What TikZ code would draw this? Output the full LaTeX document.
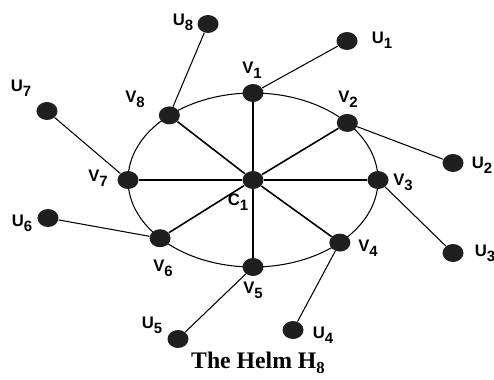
\documentclass[tikz,border=0pt]{standalone}
\usepackage{fontspec}
\setmainfont{Liberation Serif}
\newfontfamily\labfont{Liberation Sans}
\usetikzlibrary{shapes.geometric}
\newcommand{\vname}[2]{{\labfont\bfseries\fontsize{9.5}{10}\selectfont #1\raisebox{-0.55ex}{\fontsize{8.5}{9}\selectfont #2}}}
\tikzset{
  vtx/.style={ellipse, fill=black!88, draw=none, minimum width=0.42cm, minimum height=0.36cm, inner sep=0pt},
  rim/.style={line width=0.6pt},
  spoke/.style={line width=0.9pt},
  pend/.style={line width=0.6pt},
  lab/.style={inner sep=0pt}
}
\begin{document}
\begin{tikzpicture}[x=1cm,y=1cm]
\useasboundingbox (-5.06,3.6) rectangle (4.82,-3.98);
\draw[rim] (0,0) ellipse (2.5 and 1.74);

\node[vtx] (c1) at (0,0) {};
\node[vtx] (v1) at (90:2.5 and 1.74) {};
\node[vtx] (v2) at (41:2.5 and 1.74) {};
\node[vtx] (v3) at (0:2.5 and 1.74) {};
\node[vtx] (v4) at (-46:2.5 and 1.74) {};
\node[vtx] (v5) at (-90:2.5 and 1.74) {};
\node[vtx] (v6) at (-138:2.5 and 1.74) {};
\node[vtx] (v7) at (180:2.5 and 1.74) {};
\node[vtx] (v8) at (132:2.5 and 1.74) {};

\node[vtx] (u1) at (1.88,2.78) {};
\node[vtx] (u2) at (4.0,0.34) {};
\node[vtx] (u3) at (4.0,-1.46) {};
\node[vtx] (u4) at (0.8,-3.0) {};
\node[vtx] (u5) at (-1.5,-3.18) {};
\node[vtx] (u6) at (-4.1,-0.76) {};
\node[vtx] (u7) at (-4.12,1.38) {};
\node[vtx] (u8) at (-0.9,3.12) {};

% spokes
\draw[spoke] (c1) -- (v1);
\draw[spoke] (c1) -- (v2);
\draw[spoke] (c1) -- (v3);
\draw[spoke] (c1) -- (v4);
\draw[spoke] (c1) -- (v5);
\draw[spoke] (c1) -- (v6);
\draw[spoke] (c1) -- (v7);
\draw[spoke] (c1) -- (v8);

% pendant edges
\draw[pend] (v1) -- (u1);
\draw[pend] (v2) -- (u2);
\draw[pend] (v3) -- (u3);
\draw[pend] (v4) -- (u4);
\draw[pend] (v5) -- (u5);
\draw[pend] (v6) -- (u6);
\draw[pend] (v7) -- (u7);
\draw[pend] (v8) -- (u8);

% labels
\node[lab] (lc1) at (-0.3,-0.44) {\vname{C}{1}};
\node[lab] (lv1) at (-0.02,2.2) {\vname{V}{1}};
\node[lab] (lv2) at (1.9,1.62) {\vname{V}{2}};
\node[lab] (lv3) at (3.0,-0.04) {\vname{V}{3}};
\node[lab] (lv4) at (2.3,-1.36) {\vname{V}{4}};
\node[lab] (lv5) at (0,-2.2) {\vname{V}{5}};
\node[lab] (lv6) at (-1.8,-1.76) {\vname{V}{6}};
\node[lab] (lv7) at (-3.1,0.04) {\vname{V}{7}};
\node[lab] (lv8) at (-2.36,1.62) {\vname{V}{8}};
\node[lab] (lu1) at (2.58,2.8) {\vname{U}{1}};
\node[lab] (lu2) at (4.58,0.3) {\vname{U}{2}};
\node[lab] (lu3) at (4.64,-1.46) {\vname{U}{3}};
\node[lab] (lu4) at (1.4,-3.1) {\vname{U}{4}};
\node[lab] (lu5) at (-2.02,-2.9) {\vname{U}{5}};
\node[lab] (lu6) at (-4.62,-0.86) {\vname{U}{6}};
\node[lab] (lu7) at (-4.64,1.84) {\vname{U}{7}};
\node[lab] (lu8) at (-1.4,3.16) {\vname{U}{8}};

\node[lab] (title) at (0.1,-3.66) {\bfseries\fontsize{13.5}{15}\selectfont The Helm H\raisebox{-0.45ex}{\fontsize{9.5}{10}\selectfont 8}};
\end{tikzpicture}
\end{document}
